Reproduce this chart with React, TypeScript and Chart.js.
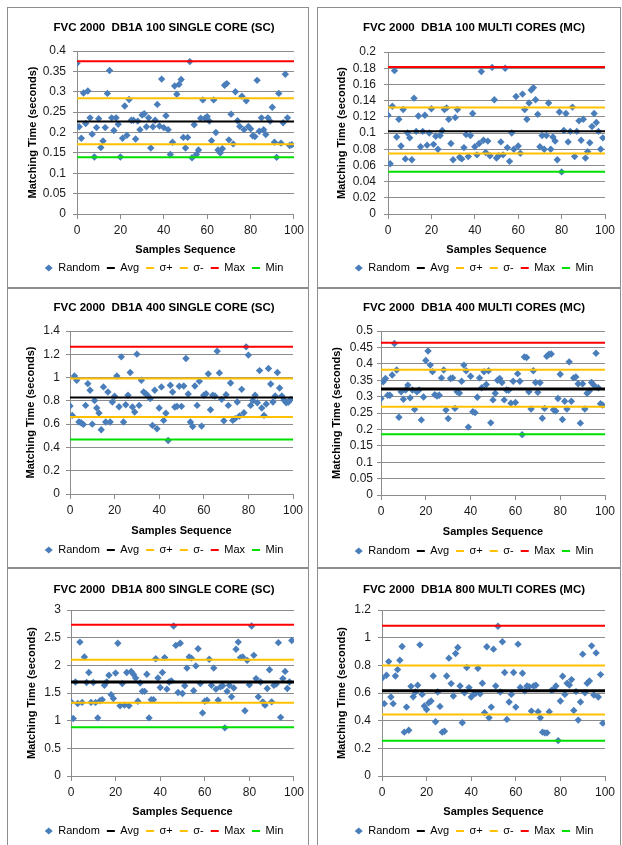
import React, { useEffect, useRef } from "react";
import { Chart, registerables } from "chart.js";

Chart.register(...registerables);

const FONT = "'Liberation Sans', Arial, Helvetica, sans-serif";

// ---- Chart titles ----
const titles = [
  "FVC 2000  DB1A 100 SINGLE CORE (SC)",
  "FVC 2000  DB1A 100 MULTI CORES (MC)",
  "FVC 2000  DB1A 400 SINGLE CORE (SC)",
  "FVC 2000  DB1A 400 MULTI CORES (MC)",
  "FVC 2000  DB1A 800 SINGLE CORE (SC)",
  "FVC 2000  DB1A 800 MULTI CORES (MC)",
];
const yAxisTitle = "Matching Time (seconds)";
const xAxisTitle = "Samples Sequence";
const legendLabels = ["Random", "Avg", "σ+", "σ-", "Max", "Min"];

// ---- Random sample matching times (index = sample sequence 0..99) ----
const sc100 = [
  0.370, 0.214, 0.186, 0.297, 0.222, 0.302, 0.236, 0.196, 0.140, 0.212,
  0.234, 0.163, 0.179, 0.212, 0.296, 0.352, 0.236, 0.205, 0.236, 0.220,
  0.140, 0.186, 0.265, 0.193, 0.281, 0.230, 0.230, 0.184, 0.228, 0.207,
  0.243, 0.246, 0.214, 0.236, 0.162, 0.214, 0.230, 0.269, 0.216, 0.331,
  0.212, 0.241, 0.207, 0.146, 0.176, 0.314, 0.294, 0.318, 0.330, 0.188,
  0.162, 0.188, 0.374, 0.138, 0.219, 0.146, 0.157, 0.235, 0.280, 0.235,
  0.239, 0.228, 0.180, 0.280, 0.200, 0.157, 0.150, 0.160, 0.316, 0.320,
  0.182, 0.245, 0.172, 0.300, 0.229, 0.215, 0.289, 0.207, 0.278, 0.215,
  0.209, 0.192, 0.190, 0.328, 0.203, 0.236, 0.207, 0.195, 0.236, 0.228,
  0.262, 0.176, 0.139, 0.296, 0.174, 0.224, 0.343, 0.236, 0.168, 0.170,
];
const mc100 = [
  0.122, 0.062, 0.133, 0.177, 0.095, 0.117, 0.084, 0.129, 0.068, 0.100,
  0.094, 0.067, 0.143, 0.102, 0.121, 0.083, 0.102, 0.122, 0.085, 0.100,
  0.130, 0.086, 0.096, 0.080, 0.097, 0.103, 0.129, 0.131, 0.117, 0.087,
  0.067, 0.119, 0.129, 0.070, 0.068, 0.082, 0.098, 0.071, 0.097, 0.124,
  0.083, 0.073, 0.087, 0.176, 0.091, 0.076, 0.090, 0.072, 0.181, 0.141,
  0.069, 0.072, 0.089, 0.073, 0.180, 0.082, 0.065, 0.100, 0.080, 0.145,
  0.084, 0.075, 0.148, 0.129, 0.117, 0.137, 0.153, 0.156, 0.141, 0.123,
  0.083, 0.097, 0.080, 0.097, 0.137, 0.080, 0.095, 0.090, 0.067, 0.126,
  0.052, 0.103, 0.124, 0.089, 0.102, 0.132, 0.071, 0.102, 0.115, 0.091,
  0.117, 0.069, 0.077, 0.088, 0.108, 0.124, 0.113, 0.102, 0.080, 0.094,
];
const sc400 = [
  0.756, 0.675, 1.014, 0.977, 0.618, 0.612, 0.598, 0.761, 0.948, 0.891,
  0.600, 0.802, 0.739, 0.695, 0.552, 0.920, 0.618, 0.876, 0.618, 0.790,
  0.839, 1.014, 0.750, 1.178, 0.618, 0.767, 0.848, 1.043, 0.747, 0.704,
  1.201, 0.761, 0.977, 0.876, 0.862, 0.842, 0.819, 0.589, 0.891, 0.560,
  0.739, 0.920, 0.632, 0.693, 0.460, 0.934, 0.876, 0.747, 0.753, 0.925,
  0.753, 0.928, 1.164, 0.859, 0.618, 0.580, 0.928, 0.761, 0.968, 0.583,
  0.848, 0.862, 1.032, 0.724, 0.848, 0.842, 1.227, 1.040, 0.813, 0.629,
  0.853, 0.761, 0.954, 0.632, 0.647, 0.790, 0.670, 0.899, 0.698, 1.264,
  1.193, 0.761, 0.802, 0.848, 0.784, 1.060, 0.739, 0.675, 0.773, 1.078,
  0.945, 0.790, 0.842, 1.043, 0.911, 0.842, 0.805, 0.784, 0.790, 0.813,
];
const mc400 = [
  0.294, 0.345, 0.355, 0.304, 0.304, 0.366, 0.462, 0.381, 0.237, 0.315,
  0.292, 0.320, 0.335, 0.296, 0.320, 0.261, 0.315, 0.320, 0.229, 0.299,
  0.410, 0.439, 0.396, 0.376, 0.306, 0.302, 0.304, 0.357, 0.381, 0.259,
  0.233, 0.355, 0.357, 0.264, 0.315, 0.311, 0.347, 0.396, 0.379, 0.207,
  0.362, 0.254, 0.251, 0.298, 0.357, 0.327, 0.376, 0.337, 0.379, 0.220,
  0.290, 0.310, 0.350, 0.355, 0.343, 0.290, 0.320, 0.319, 0.280, 0.347,
  0.282, 0.370, 0.347, 0.184, 0.421, 0.419, 0.315, 0.262, 0.379, 0.343,
  0.313, 0.342, 0.234, 0.264, 0.423, 0.429, 0.430, 0.260, 0.256, 0.294,
  0.368, 0.230, 0.286, 0.262, 0.406, 0.286, 0.357, 0.360, 0.339, 0.219,
  0.339, 0.262, 0.310, 0.317, 0.343, 0.335, 0.432, 0.327, 0.278, 0.274,
];
const sc800 = [
  1.34, 1.04, 1.70, 1.31, 2.42, 1.33, 2.15, 1.69, 1.87, 1.33,
  1.69, 1.33, 1.05, 1.36, 1.38, 1.64, 1.70, 1.82, 1.47, 1.40,
  1.86, 2.40, 1.27, 1.67, 1.28, 1.87, 1.27, 1.89, 1.84, 1.77,
  1.35, 1.68, 1.53, 1.53, 1.84, 1.05, 1.38, 1.38, 2.12, 1.77,
  1.60, 1.87, 2.14, 1.57, 1.70, 1.72, 2.71, 2.36, 1.51, 2.40,
  1.49, 1.63, 1.95, 2.15, 2.13, 1.54, 1.99, 2.30, 1.67, 1.14,
  1.35, 1.37, 2.11, 1.64, 1.95, 1.57, 1.37, 1.61, 1.63, 0.87,
  1.53, 1.64, 1.43, 1.59, 2.29, 2.42, 2.14, 2.15, 1.18, 2.09,
  1.65, 2.71, 2.18, 1.76, 1.43, 1.70, 1.34, 1.28, 1.58, 1.92,
  1.34, 1.64, 1.66, 2.41, 1.06, 1.76, 1.89, 1.58, 1.70, 2.45,
];
const mc800 = [
  0.707, 0.523, 0.728, 0.827, 0.571, 0.523, 0.723, 0.769, 0.837, 0.936,
  0.317, 0.498, 0.331, 0.648, 0.573, 0.607, 0.656, 0.948, 0.590, 0.506,
  0.481, 0.530, 0.542, 0.723, 0.392, 0.607, 0.503, 0.317, 0.324, 0.723,
  0.852, 0.668, 0.578, 0.886, 0.929, 0.651, 0.385, 0.602, 0.784, 0.639,
  0.571, 0.590, 0.598, 0.779, 0.595, 0.670, 0.457, 0.934, 0.421, 0.498,
  0.917, 0.651, 1.082, 0.607, 0.970, 0.748, 0.409, 0.535, 0.590, 0.748,
  0.498, 0.953, 0.640, 0.743, 0.615, 0.651, 0.646, 0.469, 0.651, 0.656,
  0.465, 0.421, 0.317, 0.312, 0.312, 0.465, 0.619, 0.627, 0.651, 0.256,
  0.542, 0.721, 0.590, 0.670, 0.658, 0.697, 0.474, 0.610, 0.404, 0.535,
  0.881, 0.602, 0.670, 0.687, 0.941, 0.586, 0.890, 0.571, 0.733, 0.382,
];
const seriesList = [sc100, mc100, sc400, mc400, sc800, mc800];

// ---- Reference lines (per panel) ----
const avgLine = [0.227, 0.1021, 0.828, 0.3228, 1.7, 0.617];
const sigmaPlusLine = [0.284, 0.1314, 0.991, 0.3819, 2.099, 0.798];
const sigmaMinusLine = [0.171, 0.0748, 0.661, 0.2688, 1.325, 0.445];
const maxLine = [0.375, 0.1814, 1.264, 0.4644, 2.734, 1.086];
const minLine = [0.139, 0.0521, 0.468, 0.1853, 0.883, 0.254];

// ---- Axis ticks ----
const yMaxList = [0.4, 0.2, 1.4, 0.5, 3, 1.2];
const yStepList = [0.05, 0.02, 0.2, 0.05, 0.5, 0.2];
const xMin = 0;
const xMax = 100;
const xStep = 20;

// ---- Styling / layout (positions, not data) ----
const pointColor = "#4a7ebb";
const lineColors = ["#000000", "#ffc000", "#ffc000", "#ff0000", "#00e000"];
const gridColor = "#8c8c8c";

const layoutSpec = [
  { left: 7, top: 7, w: 302, h: 281, L: 69, R: 286, T: 43, B: 206, yT: 20, yXT: 242, yL: 260, yTX: 25, yPad: 7, blackW: 2 },
  { left: 317, top: 7, w: 304, h: 281, L: 70, R: 287, T: 44, B: 206, yT: 20, yXT: 242, yL: 260, yTX: 24, yPad: 8, blackW: 2 },
  { left: 7, top: 288, w: 302, h: 280, L: 62, R: 285, T: 42, B: 205, yT: 19, yXT: 242, yL: 261, yTX: 23, yPad: 6, blackW: 2 },
  { left: 317, top: 288, w: 304, h: 280, L: 63, R: 287, T: 42, B: 206, yT: 19, yXT: 243, yL: 262, yTX: 19, yPad: 4, blackW: 3 },
  { left: 7, top: 568, w: 302, h: 280, L: 63, R: 287, T: 41, B: 207, yT: 21, yXT: 243, yL: 262, yTX: 24, yPad: 6, blackW: 3 },
  { left: 317, top: 568, w: 304, h: 280, L: 64, R: 287, T: 41, B: 207, yT: 21, yXT: 243, yL: 262, yTX: 24, yPad: 7, blackW: 3 },
];

const fmt = (v: number | string) => String(Math.round(Number(v) * 1000) / 1000);

function Panel({ idx }: { idx: number }) {
  const ref = useRef<HTMLCanvasElement | null>(null);
  const g = layoutSpec[idx];
  const W = g.w - 2;
  const H = g.h - 2;

  useEffect(() => {
    const canvas = ref.current;
    if (!canvas) return;
    const centerX = 156;
    const padL = 2 * centerX - g.R;
    const padR = W - g.R;
    const legendTop = g.yL - 12.5;
    const padB = H - legendTop - 28;
    const titleLH = 11.5 * 1.2;
    const axisTitleHalf = (11 * 1.2) / 2;

    const values = seriesList[idx];
    const lineVals = [avgLine[idx], sigmaPlusLine[idx], sigmaMinusLine[idx], maxLine[idx], minLine[idx]];

    const datasets: any[] = [
      {
        label: legendLabels[0],
        data: values.map((v, i) => ({ x: i, y: v })),
        pointStyle: "rectRot",
        pointRadius: 3.7,
        pointBorderWidth: 0,
        backgroundColor: pointColor,
        borderColor: pointColor,
        order: 1,
      },
      ...lineVals.map((v, k) => ({
        label: legendLabels[k + 1],
        data: [
          { x: xMin, y: v },
          { x: xMax, y: v },
        ],
        showLine: true,
        borderColor: lineColors[k],
        backgroundColor: lineColors[k],
        borderWidth: k === 0 ? g.blackW : 2,
        pointRadius: 0,
        fill: false,
        order: 0,
      })),
    ];
    const legendColors = [pointColor, ...lineColors];

    const chart = new Chart(canvas, {
      type: "scatter",
      data: { datasets },
      options: {
        responsive: false,
        animation: false,
        devicePixelRatio: 1,
        events: [],
        layout: { padding: { left: padL, right: padR, top: 0, bottom: padB } },
        plugins: {
          tooltip: { enabled: false },
          title: {
            display: true,
            text: titles[idx],
            color: "#000",
            font: { family: FONT, size: 11.5, weight: "bold", lineHeight: 1.2 },
            padding: { top: g.yT - titleLH / 2, bottom: g.T - (g.yT - titleLH / 2) - titleLH },
          },
          legend: {
            display: true,
            position: "bottom",
            labels: {
              usePointStyle: true,
              pointStyleWidth: 8,
              boxHeight: 5,
              padding: 7,
              color: "#000",
              font: { family: FONT, size: 11 },
              generateLabels: (ch: any) =>
                ch.data.datasets.map((ds: any, i: number) => ({
                  text: ds.label,
                  fillStyle: legendColors[i],
                  strokeStyle: legendColors[i],
                  lineWidth: i === 0 ? 0 : 2,
                  pointStyle: i === 0 ? "rectRot" : "line",
                  hidden: false,
                  datasetIndex: i,
                  fontColor: "#000",
                })),
            },
          },
        },
        scales: {
          x: {
            type: "linear",
            position: "bottom",
            min: xMin,
            max: xMax,
            ticks: {
              stepSize: xStep,
              autoSkip: false,
              padding: 4,
              color: "#1a1a1a",
              font: { family: FONT, size: 12 },
              maxRotation: 0,
            },
            grid: {
              drawOnChartArea: false,
              drawTicks: true,
              tickLength: 5,
              color: gridColor,
            },
            border: { display: true, color: gridColor, width: 1 },
            title: {
              display: true,
              text: xAxisTitle,
              color: "#000",
              font: { family: FONT, size: 11, weight: "bold", lineHeight: 1.2 },
              padding: { top: 0, bottom: legendTop - g.yXT - axisTitleHalf },
            },
            afterFit: (s: any) => {
              s.height = legendTop - g.B;
            },
          },
          y: {
            type: "linear",
            position: "left",
            min: 0,
            max: yMaxList[idx],
            ticks: {
              stepSize: yStepList[idx],
              autoSkip: false,
              maxTicksLimit: 30,
              padding: g.yPad,
              color: "#1a1a1a",
              font: { family: FONT, size: 12 },
              callback: (v: any) => fmt(v),
            },
            grid: {
              drawOnChartArea: true,
              drawTicks: true,
              tickLength: 4,
              color: gridColor,
              lineWidth: 1,
            },
            border: { display: true, color: gridColor, width: 1 },
            title: {
              display: true,
              text: yAxisTitle,
              color: "#000",
              font: { family: FONT, size: 11, weight: "bold", lineHeight: 1.2 },
              padding: { top: g.yTX - padL - axisTitleHalf, bottom: 0 },
            },
            afterFit: (s: any) => {
              s.width = g.L - padL;
            },
          },
        },
      } as any,
    });
    return () => chart.destroy();
  }, [idx]);

  return (
    <div
      style={{
        position: "absolute",
        left: g.left,
        top: g.top,
        width: g.w,
        height: g.h,
        boxSizing: "border-box",
        border: "1px solid #8e8e8e",
        background: "#fff",
      }}
    >
      <canvas ref={ref} width={W} height={H} style={{ display: "block", width: W, height: H }} />
    </div>
  );
}

export default function App() {
  return (
    <div
      style={{
        position: "absolute",
        left: 0,
        top: 0,
        width: 622,
        height: 845,
        overflow: "hidden",
        background: "#fff",
      }}
    >
      {seriesList.map((_, i) => (
        <Panel key={i} idx={i} />
      ))}
    </div>
  );
}
